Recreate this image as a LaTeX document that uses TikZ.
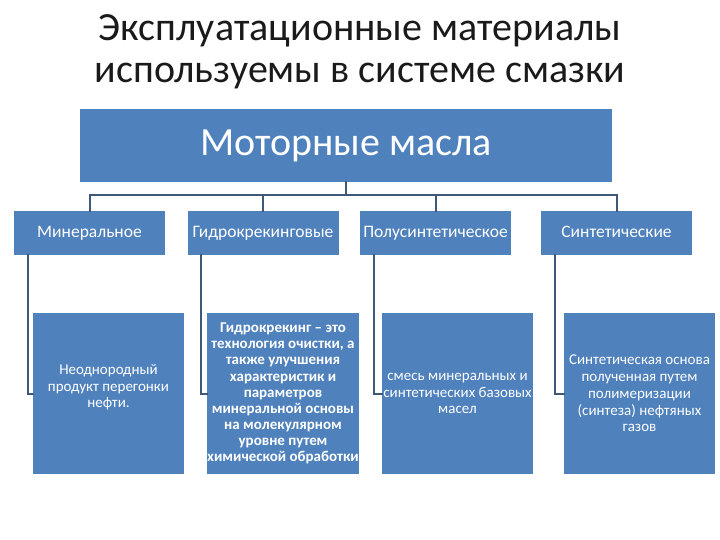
\documentclass[tikz,border=0pt]{standalone}
\usepackage{fontspec}
\setmainfont{Carlito}
\usetikzlibrary{calc,positioning}
\definecolor{cBox}{HTML}{4F81BD}
\definecolor{cLink}{HTML}{3F5877}
\definecolor{cInk}{HTML}{1A1A1A}

\begin{document}
\begin{tikzpicture}[
  x=1pt, y=-1pt,
  line cap=rect, line join=miter,
  headbox/.style={fill=cBox, text=white, minimum width=532pt, minimum height=73pt,
    inner sep=0pt, font=\fontsize{40}{46}\selectfont},
  kindbox/.style={fill=cBox, text=white, minimum width=151pt, minimum height=44pt,
    inner sep=0pt, text height=12.5pt, text depth=4pt,
    font=\fontsize{17.5}{20}\selectfont},
  notebox/.style={fill=cBox, text=white, minimum width=151pt, minimum height=161pt,
    inner sep=0pt, align=center, font=\fontsize{15}{16.8}\selectfont},
  link/.style={draw=cLink, line width=2pt},
  titlelab/.style={text=cInk, align=center, font=\fontsize{40}{42}\selectfont},
]
\useasboundingbox (0,0) rectangle (720,540);

% ---- Title ----
\node[titlelab] (title) at (360,52)
  {Эксплуатационные материалы\\используемы в системе смазки};

% ---- Head box ----
\node[headbox] (top) at (346,145.5) {Моторные масла};

% ---- Kinds of oil ----
\node[kindbox] (min)   at (89.5,233)  {Минеральное};
\node[kindbox] (hydro) at (263,233)   {Гидрокрекинговые};
\node[kindbox] (semi)  at (435.5,233) {Полусинтетическое};
\node[kindbox] (syn)   at (616.5,233) {Синтетические};

% ---- Descriptions ----
\node[notebox] (minTxt) at (108.5,393.5)
  {Неоднородный\\продукт перегонки\\нефти.\\[-2pt]~};
\node[notebox, font=\bfseries\fontsize{15}{16.1}\selectfont] (hydroTxt) at (283,393.5)
  {Гидрокрекинг -- это\\технология очистки, а\\также улучшения\\характеристик и\\параметров\\минеральной основы\\на молекулярном\\уровне путем\\химической обработки};
\node[notebox] (semiTxt) at (457.5,393.5)
  {смесь минеральных и\\синтетических базовых\\масел};
\node[notebox] (synTxt) at (639.5,393.5)
  {Синтетическая основа\\полученная путем\\полимеризации\\(синтеза) нефтяных\\газов};

% ---- Bus from head box ----
\coordinate (bus) at (346,195);
\draw[link] (top.south) -- (bus);
\draw[link] (min.north) |- (bus) -| (syn.north);
\draw[link] (hydro.north) -- (hydro.north |- bus);
\draw[link] (semi.north) -- (semi.north |- bus);

% ---- Elbows to descriptions ----
\draw[link] ($(min.south west)+(14,0)$) |- (minTxt.west);
\draw[link] ($(hydro.south west)+(14,0)$) |- (hydroTxt.west);
\draw[link] ($(semi.south west)+(14,0)$) |- (semiTxt.west);
\draw[link] ($(syn.south west)+(14,0)$) |- (synTxt.west);

\end{tikzpicture}
\end{document}
